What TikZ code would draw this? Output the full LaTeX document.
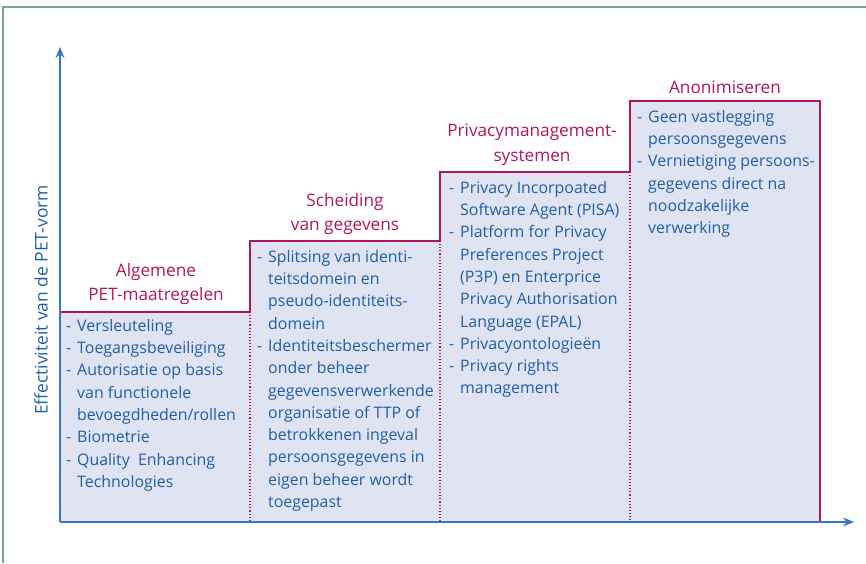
\documentclass[tikz,border=0pt]{standalone}
\usepackage{fontspec}
\setmainfont{Open Sans}
\usetikzlibrary{arrows.meta}
\definecolor{petmagenta}{RGB}{178,22,92}
\definecolor{petblue}{RGB}{30,95,170}
\definecolor{petaxis}{RGB}{58,118,190}
\definecolor{petfill}{RGB}{224,228,242}
\definecolor{petframe}{RGB}{120,160,150}
\newcommand\pitem{\makebox[11pt][l]{-}}
\newcommand\pcont{\hspace*{11pt}}
\begin{document}
\begin{tikzpicture}[x=1pt,y=1pt,
  bodytext/.style={anchor=north west,inner sep=0pt,align=left,text=petblue,
    font=\fontsize{15.9}{22.3}\selectfont},
  titletext/.style={inner sep=0pt,align=center,text=petmagenta,
    font=\fontsize{17.2}{24.5}\selectfont},
  stepline/.style={draw=petmagenta,line width=1.1pt},
  stepdots/.style={draw=petmagenta,line width=1.1pt,dotted},
  axisline/.style={draw=petaxis,line width=1.6pt,-{Stealth[length=11pt,width=9pt]}}]
\useasboundingbox (0,0) rectangle (866,563);
% outer frame, top and left edges
\draw[petframe,line width=1.4pt] (3,0) -- (3,556) -- (866,556);

% axis end points
\coordinate (origin) at (60,41);
\coordinate (ytip) at (60,516);
\coordinate (xtip) at (854,41);

% filled steps
\fill[petfill] (60,41) rectangle (250,251);
\fill[petfill] (250,41) rectangle (440,322);
\fill[petfill] (440,41) rectangle (630,391);
\fill[petfill] (630,41) rectangle (820,462);

% step outline and dotted separators
\draw[stepline] (60,251) -- (250,251) -- (250,322) -- (440,322) -- (440,391)
  -- (630,391) -- (630,462) -- (820,462) -- (820,41);
\draw[stepdots] (250,251) -- (250,41);
\draw[stepdots] (440,322) -- (440,41);
\draw[stepdots] (630,391) -- (630,41);

% axes
\draw[axisline] (origin) -- (ytip);
\draw[axisline] (origin) -- (xtip);

\node[rotate=90,text=petblue,inner sep=0pt,font=\fontsize{17.4}{20}\selectfont]
  (ylabel) at (41,263) {Effectiviteit van de PET-vorm};

% titles
\node[titletext] (t1) at (156,279) {Algemene\\PET-maatregelen};
\node[titletext] (t2) at (345,349) {Scheiding\\van gegevens};
\node[titletext] (t3) at (532,418) {Privacymanagement-\\systemen};
\node[titletext] (t4) at (725,476) {Anonimiseren};

% bullet lists
\node[bodytext] (b1) at (66,244) {%
\pitem Versleuteling\\
\pitem Toegangsbeveiliging\\
\pitem Autorisatie op basis\\
\pcont van functionele\\
\pcont bevoegdheden/rollen\\
\pitem Biometrie\\
\pitem Quality\ \ Enhancing\\
\pcont Technologies};

\node[bodytext] (b2) at (257,313) {%
\pitem Splitsing van identi-\\
\pcont teitsdomein en\\
\pcont pseudo-identiteits-\\
\pcont domein\\
\pitem Identiteitsbeschermer\\
\pcont onder beheer\\
\pcont gegevensverwerkende\\
\pcont organisatie of TTP of\\
\pcont betrokkenen ingeval\\
\pcont persoonsgegevens in\\
\pcont eigen beheer wordt\\
\pcont toegepast};

\node[bodytext] (b3) at (449,382) {%
\pitem Privacy Incorpoated\\
\pcont Software Agent (PISA)\\
\pitem Platform for Privacy\\
\pcont Preferences Project\\
\pcont (P3P) en Enterprice\\
\pcont Privacy Authorisation\\
\pcont Language (EPAL)\\
\pitem Privacyontologieën\\
\pitem Privacy rights\\
\pcont management};

\node[bodytext] (b4) at (637,453) {%
\pitem Geen vastlegging\\
\pcont persoonsgegevens\\
\pitem Vernietiging persoons-\\
\pcont gegevens direct na\\
\pcont noodzakelijke\\
\pcont verwerking};
\end{tikzpicture}
\end{document}
